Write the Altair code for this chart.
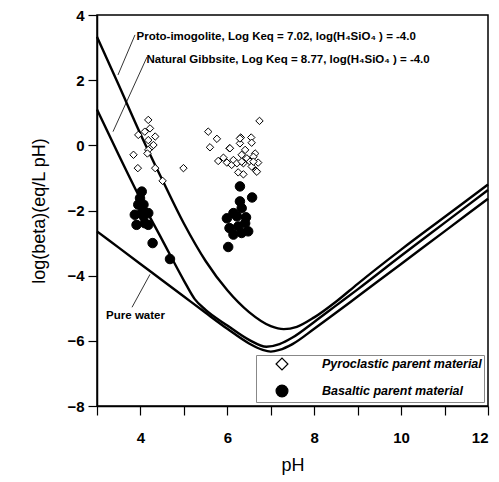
import altair as alt
import pandas as pd

# ---- curves (pH, log beta) ----
water_ph = [3, 3.5, 4, 4.5, 5, 5.5, 6, 6.5, 6.8, 7.0, 7.2, 7.5, 8, 8.5, 9, 10, 11, 12]
water_lb = [-2.64, -3.14, -3.64, -4.14, -4.64, -5.14, -5.63, -6.08, -6.27, -6.33, -6.28, -6.1, -5.63, -5.14, -4.64, -3.64, -2.64, -1.64]

gibbs_ph = [3, 3.5, 4, 4.5, 5, 5.25, 5.5, 6, 6.5, 6.9, 7.2, 7.5, 8, 8.5, 9, 10, 11, 12]
gibbs_lb = [1.1, -0.3, -1.65, -2.9, -4.15, -4.72, -5.05, -5.53, -5.97, -6.18, -6.1, -5.9, -5.42, -4.92, -4.42, -3.39, -2.38, -1.37]

imogo_ph = [3, 3.5, 4, 4.5, 5, 5.5, 6, 6.5, 7, 7.3, 7.6, 8, 8.5, 9, 10, 11, 12]
imogo_lb = [3.33, 1.85, 0.35, -1.05, -2.4, -3.55, -4.45, -5.12, -5.55, -5.64, -5.57, -5.28, -4.8, -4.25, -3.2, -2.2, -1.2]

# ---- measured soils ----
pyro_ph = [4.18, 3.95, 4.10, 4.22, 4.18, 4.34, 4.26, 4.30, 3.84, 4.18, 3.94, 4.34, 4.16, 4.51, 4.99,
           6.74, 5.56, 5.76, 5.60, 6.05, 6.31, 6.55, 6.29, 6.56, 6.41, 6.64, 5.79, 5.91, 5.99, 6.10,
           6.14, 6.22, 6.33, 6.45, 6.52, 6.60, 6.71, 6.37, 6.56, 6.66, 6.25, 6.37, 6.68, 6.29, 6.06,
           6.33, 6.60]
pyro_lb = [0.78, 0.32, 0.42, 0.52, 0.16, 0.27, -0.04, 0.01, -0.29, -0.14, -0.70, -0.70, -0.25, -1.09, -0.70,
           0.75, 0.42, 0.20, -0.06, -0.09, 0.24, 0.24, 0.06, 0.08, -0.14, -0.25, -0.48, -0.38, -0.53, -0.60,
           -0.45, -0.55, -0.29, -0.40, -0.50, -0.35, -0.53, -0.55, -0.65, -0.78, -0.83, -0.89, -0.81, 0.21, -0.09,
           -0.50, -0.50]

basalt_ph = [4.03, 3.99, 4.07, 3.95, 3.87, 4.03, 4.18, 3.91, 4.10, 4.18, 4.07, 4.28, 4.68,
             6.29, 6.57, 6.29, 6.33, 6.14, 5.99, 6.22, 6.43, 6.05, 6.25, 6.14, 6.33, 6.48, 6.02, 6.41]
basalt_lb = [-1.42, -1.62, -1.82, -1.82, -2.13, -2.08, -2.08, -2.44, -2.39, -2.44, -2.18, -3.00, -3.49,
             -1.26, -1.60, -1.72, -1.93, -2.08, -2.24, -2.18, -2.21, -2.54, -2.49, -2.74, -2.69, -2.64, -3.12, -2.39]

materials = ["Pyroclastic parent material", "Basaltic parent material"]

# ---- annotations ----
ann_text = ["Proto-imogolite, Log Keq = 7.02, log(H\u2084SiO\u2084 ) = -4.0",
            "Natural Gibbsite, Log Keq = 8.77, log(H\u2084SiO\u2084 ) = -4.0",
            "Pure water"]
ann_ph = [3.91, 4.14, 3.21]
ann_lb = [3.33, 2.62, -5.24]

lead_ph1 = [3.875, 4.151, 4.22]
lead_lb1 = [3.39, 2.71, -3.96]
lead_ph2 = [3.483, 3.368, 3.806]
lead_lb2 = [2.16, 0.42, -4.97]

# ---- tables ----
rows = []
for name, xs_, ys_ in [("water", water_ph, water_lb), ("gibbsite", gibbs_ph, gibbs_lb), ("imogolite", imogo_ph, imogo_lb)]:
    for i, (a, b) in enumerate(zip(xs_, ys_)):
        rows.append({"pH": a, "lb": b, "curve": name, "o": i})
curves = pd.DataFrame(rows)

pyro = pd.DataFrame({"pH": pyro_ph, "lb": pyro_lb, "material": materials[0]})
basalt = pd.DataFrame({"pH": basalt_ph, "lb": basalt_lb, "material": materials[1]})
ann = pd.DataFrame({"pH": ann_ph, "lb": ann_lb, "text": ann_text})
leads = pd.DataFrame({"x1": lead_ph1, "y1": lead_lb1, "x2": lead_ph2, "y2": lead_lb2})

FONT = "Liberation Sans"
xs = alt.Scale(domain=[3, 12], nice=False, zero=False)
ys = alt.Scale(domain=[-8, 4], nice=False, zero=False)
x_axis = alt.Axis(values=list(range(3, 13)), labelExpr="datum.value % 2 == 0 ? datum.label : ''",
                  title="pH", grid=False, tickSize=9, labelPadding=15, titlePadding=11)
y_axis = alt.Axis(values=list(range(-8, 5)), labelExpr="datum.value % 2 == 0 ? datum.label : ''",
                  title="log(beta)(eq/L pH)", grid=False, tickSize=9, labelPadding=4, titlePadding=18)

lines = alt.Chart(curves).mark_line(color="black", strokeWidth=2.4, interpolate="monotone").encode(
    x=alt.X("pH:Q", scale=xs, axis=x_axis),
    y=alt.Y("lb:Q", scale=ys, axis=y_axis),
    detail="curve:N",
    order="o:Q",
)

shape_enc = alt.Shape("material:N", scale=alt.Scale(domain=materials, range=["diamond", "circle"]),
                      legend=alt.Legend(title=None))
fill_enc = alt.Fill("material:N", scale=alt.Scale(domain=materials, range=["white", "black"]),
                    legend=alt.Legend(title=None))
stroke_enc = alt.Stroke("material:N", scale=alt.Scale(domain=materials, range=["black", "black"]),
                        legend=alt.Legend(title=None))

pyro_pts = alt.Chart(pyro).mark_point(opacity=1, strokeWidth=1, size=55).encode(
    x=alt.X("pH:Q", scale=xs), y=alt.Y("lb:Q", scale=ys), shape=shape_enc, fill=fill_enc, stroke=stroke_enc)
basalt_pts = alt.Chart(basalt).mark_point(opacity=1, strokeWidth=1, size=90).encode(
    x=alt.X("pH:Q", scale=xs), y=alt.Y("lb:Q", scale=ys), shape=shape_enc, fill=fill_enc, stroke=stroke_enc)

texts = alt.Chart(ann).mark_text(align="left", baseline="middle", font=FONT, fontSize=11.5,
                                 fontWeight="bold", color="black").encode(
    x=alt.X("pH:Q", scale=xs), y=alt.Y("lb:Q", scale=ys), text="text:N")

rules = alt.Chart(leads).mark_rule(color="black", strokeWidth=0.8).encode(
    x=alt.X("x1:Q", scale=xs), y=alt.Y("y1:Q", scale=ys), x2="x2:Q", y2="y2:Q")

chart = alt.layer(lines, rules, texts, pyro_pts, basalt_pts).properties(
    width=391, height=391,
    autosize=alt.AutoSizeParams(type="none"),
    padding={"left": 89, "top": 7, "right": 3, "bottom": 70},
).configure_view(stroke="black", strokeWidth=1.5).configure_axis(
    domainColor="black", domainWidth=1.5, tickColor="black", tickWidth=1.2,
    labelFont=FONT, labelFontSize=15, labelFontWeight="bold", labelColor="black",
    titleFont=FONT, titleFontSize=18, titleFontWeight="normal", titleColor="black",
).configure_legend(
    orient="bottom-right", offset=4, padding=2, symbolOffset=17, symbolSize=140, labelOffset=33,
    rowPadding=9, labelFont=FONT, labelFontSize=12.5, labelFontStyle="italic", labelFontWeight="bold",
    labelColor="black", strokeColor="#888888", fillColor="white",
    symbolStrokeWidth=1.2, labelLimit=300,
)

chart.save("out.html", embed_options={"renderer": "svg", "actions": False})
